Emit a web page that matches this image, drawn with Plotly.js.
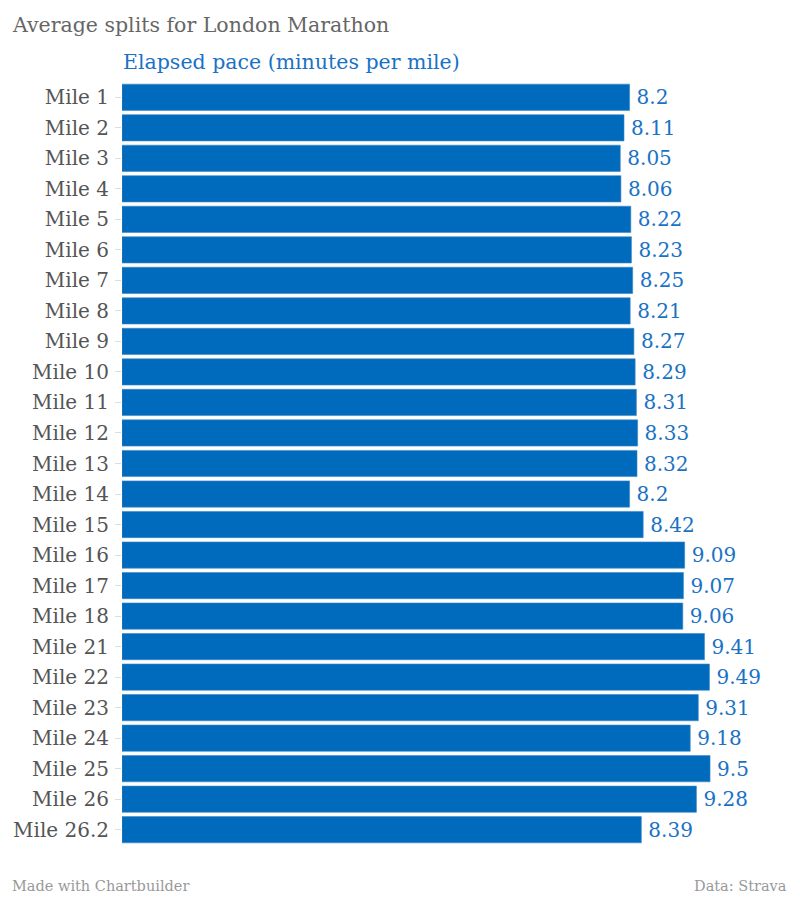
<!DOCTYPE html>
<html>
<head>
<meta charset="utf-8">
<script src="https://cdn.plot.ly/plotly-3.0.1.min.js"></script>
<style>
html,body{margin:0;padding:0;background:#fff;}
#chart{width:800px;height:897px;}
</style>
</head>
<body>
<div id="chart"></div>
<script>
var categories = ["Mile 1","Mile 2","Mile 3","Mile 4","Mile 5","Mile 6","Mile 7","Mile 8","Mile 9","Mile 10","Mile 11","Mile 12","Mile 13","Mile 14","Mile 15","Mile 16","Mile 17","Mile 18","Mile 21","Mile 22","Mile 23","Mile 24","Mile 25","Mile 26","Mile 26.2"];
var pace = [8.2,8.11,8.05,8.06,8.22,8.23,8.25,8.21,8.27,8.29,8.31,8.33,8.32,8.2,8.42,9.09,9.07,9.06,9.41,9.49,9.31,9.18,9.5,9.28,8.39];
var labels = pace.map(function(v){ return "\u2009" + String(v); });

var FONT = "DejaVu Serif, serif";
var BLUE = "#006bbd";

var trace = {
  type: "bar",
  orientation: "h",
  y: categories,
  x: pace,
  text: labels,
  textposition: "outside",
  cliponaxis: false,
  textfont: {family: FONT, size: 20, color: "#1a72c4"},
  marker: {color: BLUE, line: {color: "#3a86c8", width: 0.6}},
  hoverinfo: "none"
};

var layout = {
  width: 800, height: 897,
  margin: {l: 122, r: 59, t: 82, b: 52},
  paper_bgcolor: "#fff", plot_bgcolor: "#fff",
  showlegend: false,
  bargap: 0.14,
  font: {family: FONT},
  xaxis: {range: [0, 10], visible: false, fixedrange: true},
  yaxis: {
    type: "category",
    categoryorder: "array",
    categoryarray: categories,
    range: [24.5, -0.5],
    ticks: "outside", ticklen: 6, tickcolor: "#dddddd", tickwidth: 1,
    tickfont: {family: FONT, size: 20, color: "#555"},
    showline: false, showgrid: false, zeroline: false,
    ticklabelstandoff: 2
  },
  annotations: [
    {xref: "paper", yref: "paper", x: (10-122)/619, y: 1 + (82-25)/763, xanchor: "left", yanchor: "middle",
     text: "Average splits for London Marathon", showarrow: false,
     font: {family: FONT, size: 20.5, color: "#666"}},
    {xref: "paper", yref: "paper", x: -1/619, y: 1 + (82-62)/763, xanchor: "left", yanchor: "middle",
     text: "Elapsed pace (minutes per mile)", showarrow: false,
     font: {family: FONT, size: 20.5, color: "#1a72c4"}},
    {xref: "paper", yref: "paper", x: (10-122)/619, y: -(886-845)/763, xanchor: "left", yanchor: "middle",
     text: "Made with Chartbuilder", showarrow: false,
     font: {family: FONT, size: 14.5, color: "#999"}},
    {xref: "paper", yref: "paper", x: (789-122)/619, y: -(886-845)/763, xanchor: "right", yanchor: "middle",
     text: "Data: Strava", showarrow: false,
     font: {family: FONT, size: 14.5, color: "#999"}}
  ]
};

Plotly.newPlot("chart", [trace], layout, {displayModeBar: false, staticPlot: true});
</script>
</body>
</html>
